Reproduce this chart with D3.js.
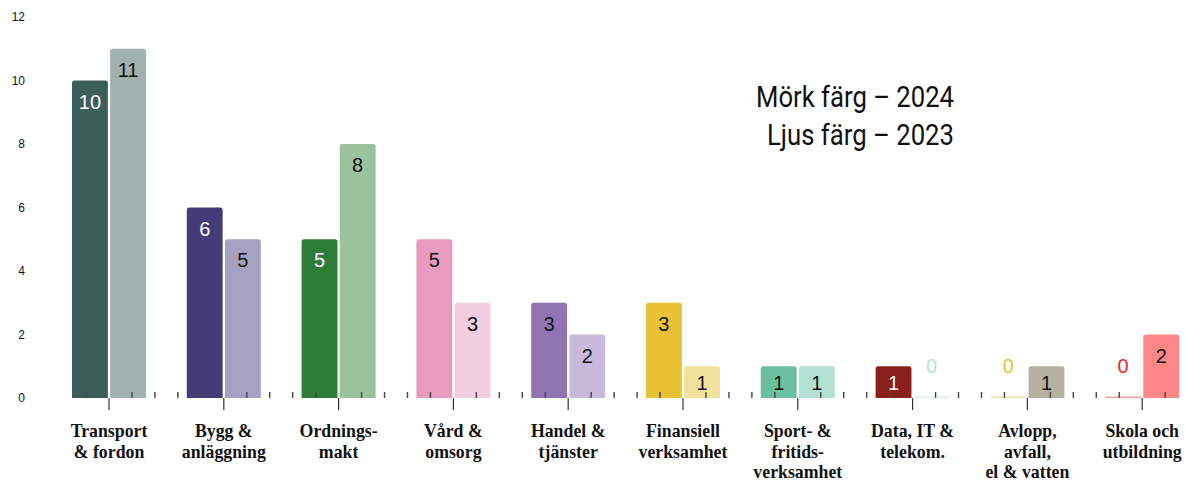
<!DOCTYPE html>
<html>
<head>
<meta charset="utf-8">
<script src="https://cdn.jsdelivr.net/npm/d3@7"></script>
<style>
  body { margin: 0; background: #fff; }
  svg { display: block; }
</style>
</head>
<body>
<svg width="1186" height="482"></svg>
<script>
const svg = d3.select('svg');
const width  = +svg.attr('width');
const height = +svg.attr('height');

// Data
const categories = [
  ['Transport', '& fordon'],
  ['Bygg &', 'anläggning'],
  ['Ordnings-', 'makt'],
  ['Vård &', 'omsorg'],
  ['Handel &', 'tjänster'],
  ['Finansiell', 'verksamhet'],
  ['Sport- &', 'fritids-', 'verksamhet'],
  ['Data, IT &', 'telekom.'],
  ['Avlopp,', 'avfall,', 'el & vatten'],
  ['Skola och', 'utbildning']
];
const years = ['2024', '2023'];
const values2024 = [10, 6, 5, 5, 3, 3, 1, 1, 0, 0];
const values2023 = [11, 5, 8, 3, 2, 1, 1, 0, 1, 2];
const yTicks = [0, 2, 4, 6, 8, 10, 12];
const legendLines = ['Mörk färg – 2024', 'Ljus färg – 2023'];

// Palettes (dark = 2024, light = 2023)
const colors2024 = ['#3b5e59', '#433c78', '#2d7d38', '#e89bbf', '#9174b3',
                    '#e8c232', '#6abf9f', '#8a201c', '#e8c232', '#e82b2b'];
const colors2023 = ['#a0b1ae', '#a5a1c1', '#9ac29d', '#f3cde0', '#c9b9da',
                    '#f2e19a', '#b3e1d3', '#b8e2d6', '#b5b1a0', '#ff8686'];
const whiteText2024 = [true, true, true, false, false, false, false, true, false, false];

/** - - - - - - - - - - - - - - - - - - - - - - - - - - - - - - - - -
 * Scales
 ** - - - - - - - - - - - - - - - - - - - - - - - - - - - - - - - - - */
const baseY = 398;
const x0 = d3.scaleBand()
  .domain(d3.range(categories.length))
  .range([51.6, 1199.6])
  .padding(0);
const step = x0.step();
const center = i => x0(i) + step / 2;

const x1 = d3.scaleBand()
  .domain(years)
  .range([-37, 37])
  .paddingInner(0.06);

const yScale = d3.scaleLinear()
  .domain([0, 12])
  .range([baseY, 17]);

// Y axis labels only (no line, no ticks)
const yAxis = d3.axisLeft(yScale).tickValues(yTicks).tickSize(0).tickPadding(0);
const yAxisG = svg.append('g')
  .attr('transform', 'translate(25,0)')
  .call(yAxis);
yAxisG.select('.domain').remove();
yAxisG.selectAll('text')
  .attr('font-family', 'Liberation Sans, Arial, sans-serif')
  .attr('font-size', 12)
  .attr('fill', '#111');

/** - - - - - - - - - - - - - - - - - - - - - - - - - - - - - - - - -
 * Bars
 ** - - - - - - - - - - - - - - - - - - - - - - - - - - - - - - - - - */
const rows = [];
categories.forEach((c, i) => {
  rows.push({ i, year: '2024', v: values2024[i], color: colors2024[i], white: whiteText2024[i] });
  rows.push({ i, year: '2023', v: values2023[i], color: colors2023[i], white: false });
});

function topRounded(x, y, w, h, r) {
  r = Math.min(r, h, w / 2);
  return `M${x},${y + h}V${y + r}Q${x},${y} ${x + r},${y}H${x + w - r}Q${x + w},${y} ${x + w},${y + r}V${y + h}Z`;
}

const bars = svg.append('g');
rows.forEach(d => {
  const bx = center(d.i) + x1(d.year);
  const bw = x1.bandwidth();
  if (d.v > 0) {
    const top = yScale(d.v);
    bars.append('path')
      .attr('d', topRounded(bx, top, bw, baseY - top, 2.5))
      .attr('fill', d.color);
  } else {
    bars.append('rect')
      .attr('x', bx).attr('y', baseY - 1.5)
      .attr('width', bw).attr('height', 1.5)
      .attr('fill', d.color).attr('opacity', 0.45);
  }
});

// Value labels
svg.append('g').selectAll('text').data(rows).enter().append('text')
  .attr('x', d => center(d.i) + x1(d.year) + x1.bandwidth() / 2)
  .attr('y', d => d.v === 0 ? baseY - 25 : Math.min(yScale(d.v) + 28, baseY - 8))
  .attr('text-anchor', 'middle')
  .attr('font-family', 'Liberation Sans, Arial, sans-serif')
  .attr('font-size', 20)
  .attr('fill', d => d.v === 0 ? d.color : (d.white ? '#fff' : '#111'))
  .text(d => d.v);

/** - - - - - - - - - - - - - - - - - - - - - - - - - - - - - - - - -
 * X axis: major ticks below, minor ticks above
 ** - - - - - - - - - - - - - - - - - - - - - - - - - - - - - - - - - */
const ticksG = svg.append('g');
categories.forEach((c, i) => {
  const cx = center(i);
  ticksG.append('line')
    .attr('x1', cx).attr('x2', cx)
    .attr('y1', baseY).attr('y2', baseY + 12)
    .attr('stroke', '#333').attr('stroke-width', 1.2);
  [-2, -1, 1, 2].forEach(k => {
    const mx = cx + k * step / 5;
    if (mx < 70 || mx > width) return;
    ticksG.append('line')
      .attr('x1', mx).attr('x2', mx)
      .attr('y1', baseY).attr('y2', baseY - 6)
      .attr('stroke', '#444').attr('stroke-width', 1.4);
  });
});

// Category labels
const catG = svg.append('g');
categories.forEach((lines, i) => {
  const t = catG.append('text')
    .attr('text-anchor', 'middle')
    .attr('font-family', 'Liberation Serif, Times New Roman, serif')
    .attr('font-weight', 'bold')
    .attr('font-size', 17.8)
    .attr('fill', '#111');
  lines.forEach((l, j) => {
    t.append('tspan')
      .attr('x', center(i))
      .attr('y', 437 + j * 20.5)
      .text(l);
  });
});

// Legend text
const legendWidths = [198, 187];
svg.append('g').selectAll('text').data(legendLines).enter().append('text')
  .attr('x', (d, j) => 954 - legendWidths[j])
  .attr('y', (d, j) => 107 + j * 38)
  .attr('font-family', 'Roboto, DejaVu Sans, sans-serif')
  .attr('font-size', 29)
  .attr('textLength', (d, j) => legendWidths[j])
  .attr('lengthAdjust', 'spacingAndGlyphs')
  .attr('fill', '#111')
  .text(d => d);
</script>
</body>
</html>
